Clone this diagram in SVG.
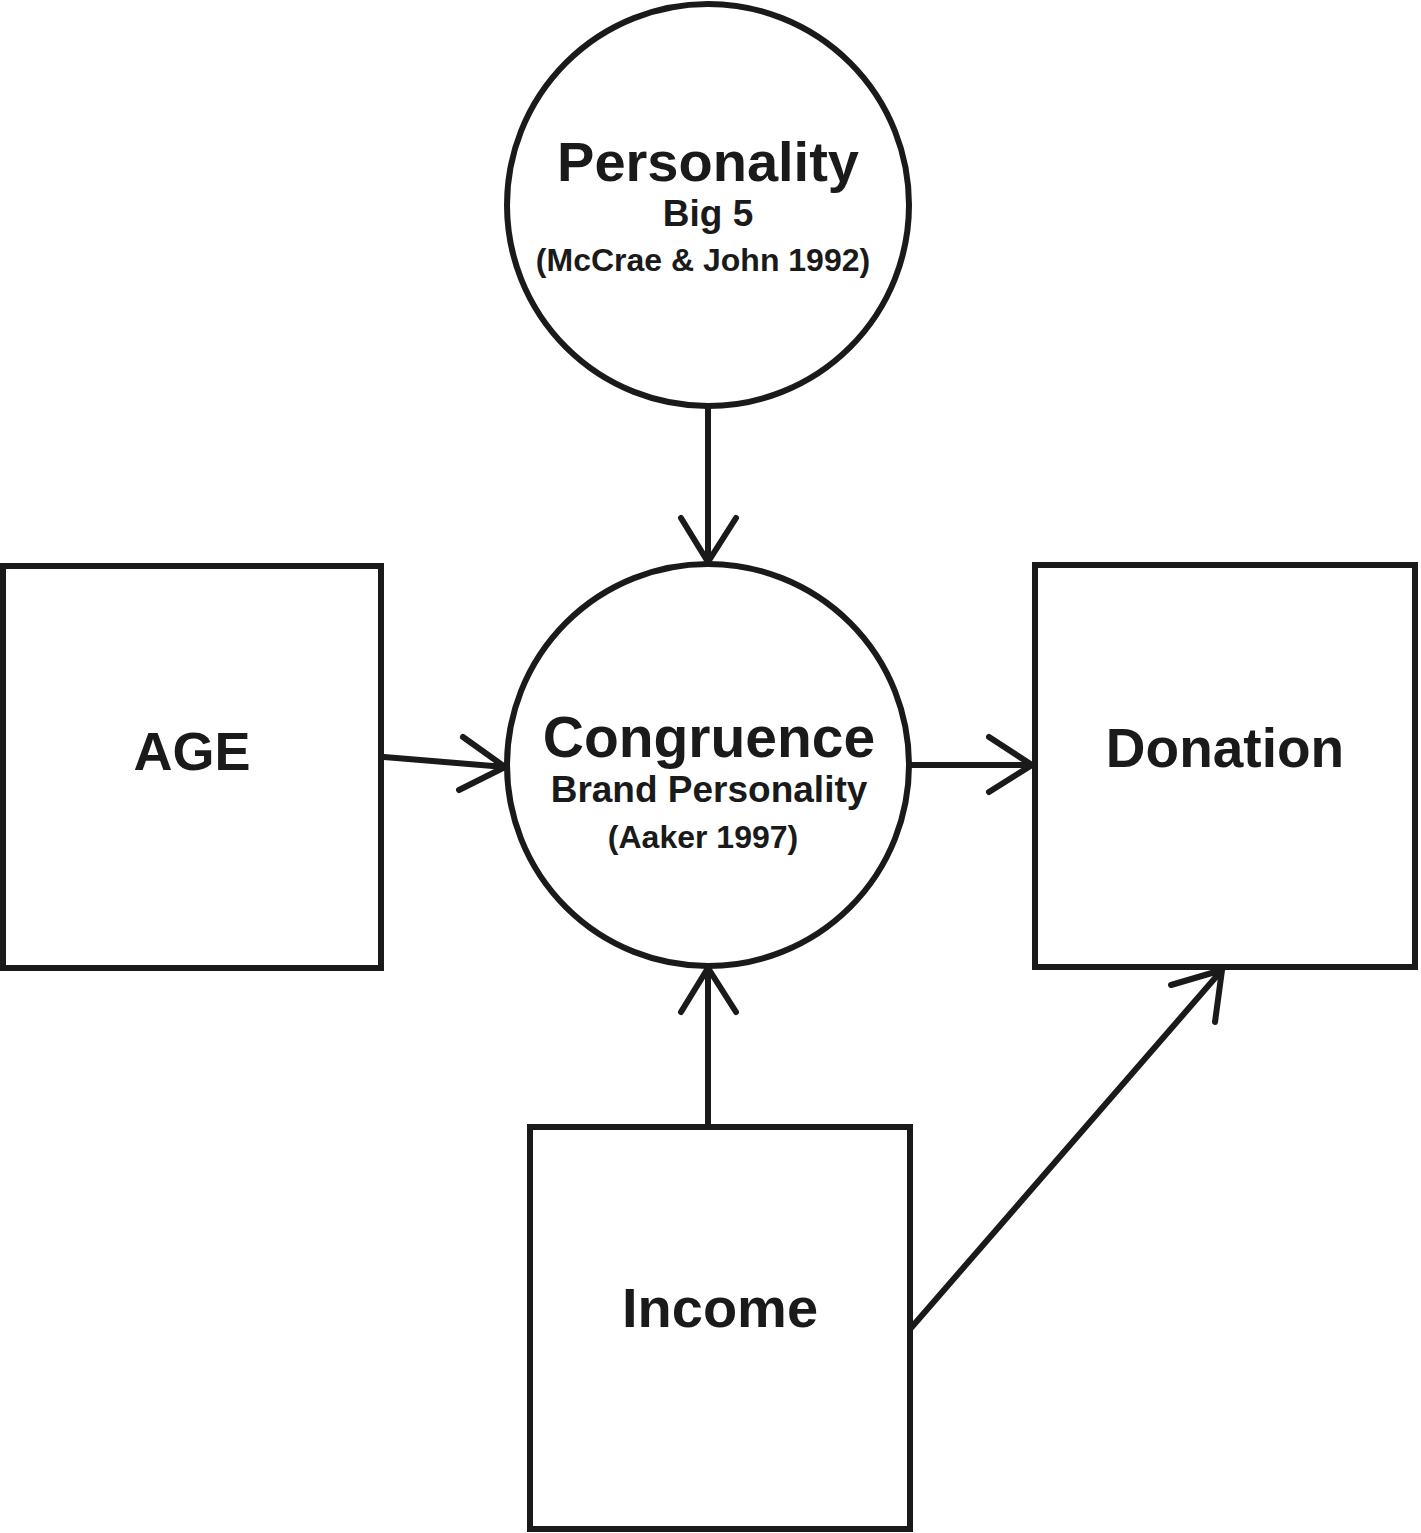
<svg xmlns="http://www.w3.org/2000/svg" width="1421" height="1533" viewBox="0 0 1421 1533">
<style>
.shape{fill:#fff;stroke:#1a1a1a;stroke-width:6}
.edge{fill:none;stroke:#1a1a1a;stroke-width:6;stroke-linecap:round;stroke-linejoin:round}
text{font-family:"Liberation Sans",Arial,sans-serif;font-weight:bold;fill:#1a1a1a;text-anchor:middle}
</style>
<rect width="1421" height="1533" fill="#fff"/>
<g id="connectors">
<path class="edge" d="M708 407 L708 562 M681 518 L708 562 L736 518"/>
<path class="edge" d="M384 757 L505 767 M463 737 L505 767 L459 790"/>
<path class="edge" d="M909 765 L1032 765 M989 737 L1032 765 L989 792"/>
<path class="edge" d="M708 1125 L708 968 M681 1012 L708 968 L736 1012"/>
<path class="edge" d="M911 1328 L1222 970 M1171 985 L1222 970 L1215 1022"/>
</g>
<g id="personality">
<circle class="shape" cx="708" cy="205" r="201"/>
<text x="708" y="181" font-size="56">Personality</text>
<text x="708" y="226" font-size="37">Big 5</text>
<text x="703" y="271" font-size="32">(McCrae &amp; John 1992)</text>
</g>
<g id="congruence">
<circle class="shape" cx="708" cy="765" r="201"/>
<text x="709" y="757" font-size="57">Congruence</text>
<text x="709" y="802" font-size="37">Brand Personality</text>
<text x="703" y="848" font-size="32">(Aaker 1997)</text>
</g>
<g id="age">
<rect class="shape" x="3" y="566" width="378" height="402"/>
<text x="192" y="770" font-size="54">AGE</text>
</g>
<g id="donation">
<rect class="shape" x="1035" y="565" width="380" height="402"/>
<text x="1225" y="767" font-size="55">Donation</text>
</g>
<g id="income">
<rect class="shape" x="530" y="1127" width="380" height="402"/>
<text x="720" y="1327" font-size="56">Income</text>
</g>
</svg>
